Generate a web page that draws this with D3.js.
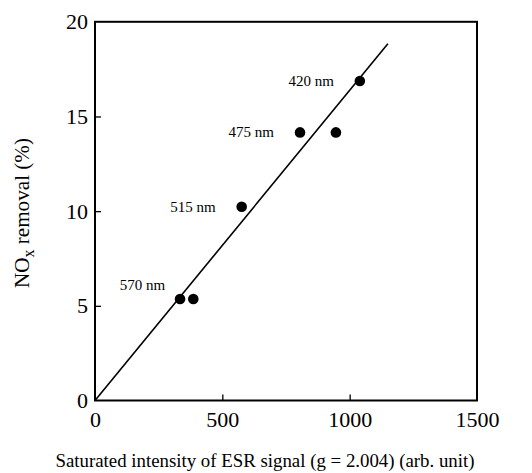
<!DOCTYPE html>
<html><head><meta charset="utf-8">
<script src="https://cdn.jsdelivr.net/npm/d3@7"></script>
<style>body{margin:0;background:#fff}svg{display:block}</style>
</head><body>
<script>
const esr = [334, 386, 576, 805, 946, 1040];
const nox = [5.36, 5.36, 10.23, 14.16, 14.16, 16.87];
const labelNames = ["570 nm", "515 nm", "475 nm", "420 nm"];
const labelIdx = [0, 2, 3, 5];
const fitX = [0, 1150];
const fitY = [0, 18.84];
const xTicks = [0, 500, 1000, 1500];
const yTicks = [0, 5, 10, 15, 20];

const FONT = '"Liberation Serif"';
const W = 532, H = 473;
const svg = d3.select("body").append("svg").attr("width", W).attr("height", H).style("font-family", FONT);
const x = d3.scaleLinear().domain([0, 1500]).range([95, 477]);
const y = d3.scaleLinear().domain([0, 20]).range([400.5, 21.8]);

svg.append("rect").attr("x", x(0)).attr("y", y(20)).attr("width", x(1500) - x(0)).attr("height", y(0) - y(20))
  .attr("fill", "none").attr("stroke", "#000").attr("stroke-width", 2);

const xa = svg.append("g").attr("transform", `translate(0,${y(0)})`)
  .call(d3.axisBottom(x).tickValues(xTicks).tickSize(-6).tickPadding(11).tickFormat(d3.format("d")));
xa.attr("font-family", null).attr("font-size", null);
xa.select(".domain").remove();
xa.selectAll("line").attr("stroke-width", 1.3).filter(d => d === 0 || d === 1500).remove();
xa.selectAll("text").style("font-family", FONT).style("font-size", "22px").attr("fill", "#000");

const ya = svg.append("g").attr("transform", `translate(${x(0)},0)`)
  .call(d3.axisLeft(y).tickValues(yTicks).tickSize(-6).tickPadding(7).tickFormat(d3.format("d")));
ya.attr("font-family", null).attr("font-size", null);
ya.select(".domain").remove();
ya.selectAll("line").attr("stroke-width", 1.3).filter(d => d === 0 || d === 20).remove();
ya.selectAll("text").style("font-family", FONT).style("font-size", "22px").attr("fill", "#000");

svg.append("line").attr("x1", x(fitX[0])).attr("y1", y(fitY[0])).attr("x2", x(fitX[1])).attr("y2", y(fitY[1]))
  .attr("stroke", "#000").attr("stroke-width", 1.6);

svg.selectAll("circle.pt").data(esr.map((v, i) => [v, nox[i]])).enter().append("circle")
  .attr("class", "pt").attr("cx", d => x(d[0])).attr("cy", d => y(d[1])).attr("r", 5.3).attr("fill", "#000");

svg.selectAll("text.lab").data(labelIdx.map((k, i) => ({ name: labelNames[i], v: esr[k], n: nox[k] }))).enter()
  .append("text").attr("class", "lab")
  .attr("x", d => d.name === "570 nm" ? x(d.v) - 15 : x(d.v) - 26)
  .attr("y", d => d.name === "570 nm" ? y(d.n) - 9 : y(d.n) + 5)
  .attr("text-anchor", "end").style("font-size", "15px").style("font-family", FONT).text(d => d.name);

const xt = svg.append("text").attr("x", 265).attr("y", 467).attr("text-anchor", "middle")
  .style("font-size", "20px").style("font-family", FONT)
  .text("Saturated intensity of ESR signal (g = 2.004) (arb. unit)");
const xl = xt.node().getComputedTextLength();
xt.style("font-size", (20 * 419 / xl).toFixed(2) + "px");

const yt = svg.append("text").attr("transform", "translate(29,213) rotate(-90)").attr("text-anchor", "middle")
  .style("font-size", "20px").style("font-family", FONT);
yt.append("tspan").text("NO");
yt.append("tspan").attr("dy", 5).style("font-size", "15px").text("x");
yt.append("tspan").attr("dy", -5).text(" removal (%)");
const yl = yt.node().getComputedTextLength();
const ys = 20 * 150 / yl;
yt.style("font-size", ys.toFixed(2) + "px");
yt.select("tspan:nth-child(2)").style("font-size", (ys * 0.75).toFixed(2) + "px");
</script>
</body></html>
